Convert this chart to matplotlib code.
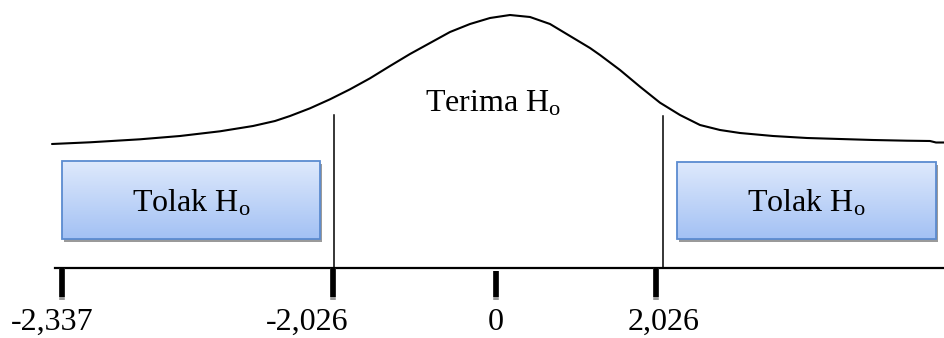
import numpy as np
import matplotlib
matplotlib.use("Agg")
import matplotlib.pyplot as plt
from matplotlib.patches import Rectangle

plt.rcParams['font.family'] = ['Liberation Serif', 'DejaVu Serif']
plt.rcParams['mathtext.fontset'] = 'custom'
plt.rcParams['mathtext.rm'] = 'Liberation Serif'
plt.rcParams['mathtext.it'] = 'Liberation Serif:italic'

# kurva (koordinat piksel)
curve_x = [52, 90, 140, 180, 220, 253, 275, 290, 310, 330, 350, 370, 390,
           410, 430, 450, 470, 490, 510, 530, 550, 570, 590, 600, 620, 640,
           660, 680, 700, 720, 740, 773, 807, 840, 873, 907, 930, 936, 945]
curve_y = [144, 142.3, 139.3, 136, 131.3, 126, 121, 116, 108.3, 99.3, 89.3,
           78.3, 66, 54, 43, 32, 24, 18, 15, 17, 24, 36, 48, 55, 70, 86.7,
           102.7, 115, 125, 130, 133, 136, 138, 139, 140, 140.7, 141, 142.5,
           142.5]

# sumbu bawah
tick_pos = [62, 333, 496, 656]
tick_labels = ['-2,337', '-2,026', '0', '2,026']
label_pos = [52, 307, 496, 664]

# batas daerah kritis
crit_lines = [334, 663]
crit_tops = [115, 116]

# kotak "Tolak Ho"
boxes = [(62, 161, 320, 239), (677, 162, 936, 239)]

fig = plt.figure(figsize=(9.45, 3.38), dpi=100)
ax = fig.add_axes([0, 0, 1, 1])
ax.set_xlim(0, 945)
ax.set_ylim(338, 0)
ax.axis('off')

ax.plot(curve_x, curve_y, color='black', lw=1.5, solid_capstyle='round',
        solid_joinstyle='round')

for x, top in zip(crit_lines, crit_tops):
    ax.plot([x, x], [top, 268], color='black', lw=1.1)

ax.plot([55, 945], [268, 268], color='black', lw=1.6)

# ticks tebal dengan ujung abu-abu
for x in tick_pos:
    y0 = 271 if x == 496 else 268
    ax.plot([x, x], [y0, 300], color='#999999', lw=4, solid_capstyle='butt')
    ax.plot([x, x], [y0, 297], color='black', lw=4, solid_capstyle='butt')

for x, lab in zip(label_pos, tick_labels):
    ax.text(x, 322, lab, ha='center', va='center', fontsize=23)

top_c = np.array([222, 233, 252]) / 255
bot_c = np.array([163, 193, 244]) / 255
grad = np.linspace(0, 1, 100)[:, None, None]
img = top_c * (1 - grad) + bot_c * grad

for (x0, y0, x1, y1) in boxes:
    ax.add_patch(Rectangle((x0 + 2, y0 + 3), x1 - x0, y1 - y0,
                           facecolor='#9a9a9a', edgecolor='none', zorder=2))
    ax.imshow(img, extent=[x0, x1, y1, y0], aspect='auto', zorder=3,
              interpolation='bilinear')
    ax.add_patch(Rectangle((x0, y0), x1 - x0, y1 - y0, facecolor='none',
                           edgecolor='#5b8bd0', lw=1.3, zorder=4))
    ax.text((x0 + x1) / 2, (y0 + y1) / 2 + 3, r'Tolak H$_{\mathrm{o}}$',
            ha='center', va='center', fontsize=23, zorder=5)

ax.text(493, 104, r'Terima H$_{\mathrm{o}}$', ha='center', va='center',
        fontsize=23)

ax.set_xlim(0, 945)
ax.set_ylim(338, 0)
fig.savefig('out.png', dpi=100)
